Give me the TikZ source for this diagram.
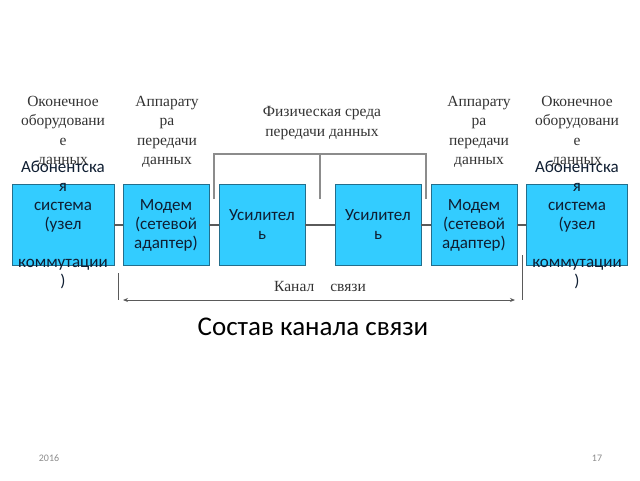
\documentclass[tikz,border=0pt]{standalone}
\usepackage{fontspec}
\setmainfont{Liberation Serif}
\newfontfamily\calfont{Carlito}
\usetikzlibrary{arrows.meta, positioning, calc}
\definecolor{boxcyan}{RGB}{51,204,255}
\definecolor{boxedge}{RGB}{35,110,140}
\definecolor{boxink}{RGB}{15,30,50}
\definecolor{linegray}{RGB}{90,90,90}
\definecolor{softgray}{RGB}{140,140,140}

\begin{document}
\begin{tikzpicture}[x=1pt, y=-1pt,
    box/.style={draw=boxedge, fill=boxcyan, line width=0.8pt, minimum height=81pt, inner sep=0pt},
    boxtext/.style={font=\calfont\fontsize{17}{19}\selectfont, align=center, text=boxink},
    toplabel/.style={font=\fontsize{15.5}{19.5}\selectfont, align=center, text=black!80},
    link/.style={linegray, line width=1.2pt}
    ]
    \useasboundingbox (0,0) rectangle (640,480);

    % Blocks of the channel
    \foreach \i/\xpos/\w in {1/63/102, 2/166/86, 3/262/86, 4/378/86, 5/474/86, 6/577/101} {
        \node[box, minimum width=\w pt] (b\i) at (\xpos,225) {};
    }
    % Links between blocks
    \foreach \a/\b in {1/2, 2/3, 3/4, 4/5, 5/6} {
        \draw[link] (b\a.east) -- (b\b.west);
    }

    % Block texts
    \node[boxtext] (t1) at (b1) {Абонентска\\я\\система\\(узел\\[19pt]коммутации\\)};
    \node[boxtext] (t2) at (b2) {Модем\\(сетевой\\адаптер)};
    \node[boxtext] (t3) at (b3) {Усилител\\ь};
    \node[boxtext] (t4) at (b4) {Усилител\\ь};
    \node[boxtext] (t5) at (b5) {Модем\\(сетевой\\адаптер)};
    \node[boxtext] (t6) at (b6) {Абонентска\\я\\система\\(узел\\[19pt]коммутации\\)};

    % Labels above
    \node[toplabel] (oe1) at (63,132) {Оконечное\\оборудовани\\е\\данных};
    \node[toplabel] (ap1) at (167,132) {Аппарату\\ра\\передачи\\данных};
    \node[toplabel] (phys) at (322,123) {Физическая среда\\передачи данных};
    \node[toplabel] (ap2) at (479,132) {Аппарату\\ра\\передачи\\данных};
    \node[toplabel] (oe2) at (577,132) {Оконечное\\оборудовани\\е\\данных};

    % Bracket of the physical medium
    \coordinate (brL) at (214,199);
    \coordinate (brM) at (320,199);
    \coordinate (brR) at (426,199);
    \coordinate (brTop) at (320,154);
    \draw[softgray, line width=1.2pt] (brL) |- (brTop) -| (brR);
    \draw[softgray, line width=1.2pt] (brM) -- (brTop);

    % Channel span
    \coordinate (chL) at (118,273);
    \coordinate (chLb) at (118,300);
    \coordinate (chR) at (522,255);
    \coordinate (chRb) at (522,300);
    \draw[link, line width=0.9pt] (chL) -- (chLb);
    \draw[link, line width=0.9pt] (chR) -- (chRb);
    \draw[link, line width=0.9pt, {Stealth[length=5pt,width=4pt]}-{Stealth[length=5pt,width=4pt]}]
        ($(chLb)+(5,0)$) -- ($(chRb)+(-7,0)$);
    \node[toplabel] (chan) at (320,286) {Канал\hspace{16pt}связи};

    % Title and footer
    \node[font=\calfont\fontsize{27}{32}\selectfont] (title) at (313,327) {Состав канала связи};
    \node[font=\calfont\fontsize{10}{12}\selectfont, text=softgray] (year) at (49,458) {2016};
    \node[font=\calfont\fontsize{10}{12}\selectfont, text=softgray] (page) at (597,458) {17};
\end{tikzpicture}
\end{document}
